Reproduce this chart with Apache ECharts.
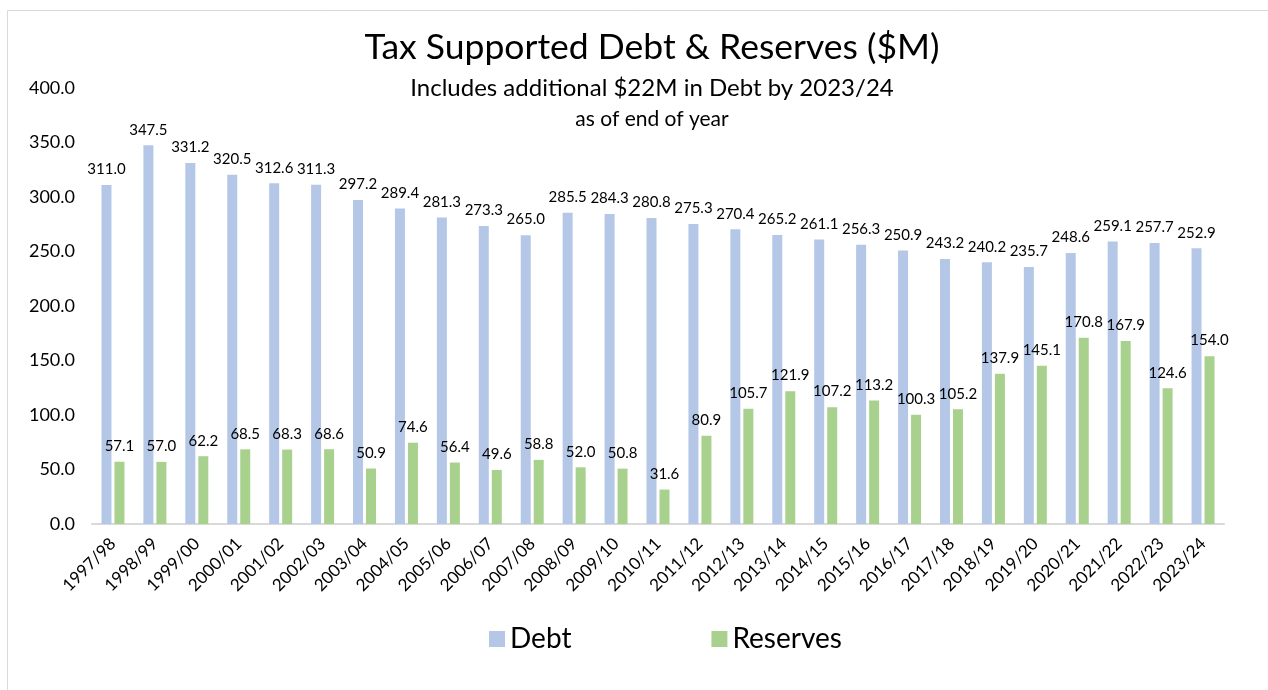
<!DOCTYPE html>
<html><head><meta charset="utf-8">
<script src="https://cdn.jsdelivr.net/npm/echarts@6/dist/echarts.min.js"></script>
<style>html,body{margin:0;padding:0;background:#fff}#c{width:1268px;height:690px}</style>
</head><body><div id="c"></div>
<script>
const categories = ["1997/98","1998/99","1999/00","2000/01","2001/02","2002/03","2003/04","2004/05","2005/06","2006/07","2007/08","2008/09","2009/10","2010/11","2011/12","2012/13","2013/14","2014/15","2015/16","2016/17","2017/18","2018/19","2019/20","2020/21","2021/22","2022/23","2023/24"];
const debt = [311.0,347.5,331.2,320.5,312.6,311.3,297.2,289.4,281.3,273.3,265.0,285.5,284.3,280.8,275.3,270.4,265.2,261.1,256.3,250.9,243.2,240.2,235.7,248.6,259.1,257.7,252.9];
const reserves = [57.1,57.0,62.2,68.5,68.3,68.6,50.9,74.6,56.4,49.6,58.8,52.0,50.8,31.6,80.9,105.7,121.9,107.2,113.2,100.3,105.2,137.9,145.1,170.8,167.9,124.6,154.0];
const titleText = "Tax Supported Debt & Reserves ($M)";
const subtitle1 = "Includes additional $22M in Debt by 2023/24";
const subtitle2 = "as of end of year";

const font = "Lato, 'Open Sans', sans-serif";
const chart = echarts.init(document.getElementById('c'), null, {renderer:'canvas'});
chart.setOption({
  animation:false,
  textStyle:{fontFamily:font, color:'#000'},
  graphic:[{type:'rect', shape:{x:7.5,y:10.5,width:1300,height:700}, style:{fill:'none', stroke:'#D9D9D9', lineWidth:1}, silent:true}],
  title:[
    {text:titleText, left:647, textAlign:'center', top:25, textStyle:{fontFamily:font, fontSize:35.5, fontWeight:'normal', color:'#000'}},
    {text:subtitle1, left:647, textAlign:'center', top:71, textStyle:{fontFamily:font, fontSize:24, fontWeight:'normal', color:'#000'}},
    {text:subtitle2, left:647, textAlign:'center', top:104, textStyle:{fontFamily:font, fontSize:21, fontWeight:'normal', color:'#000'}}
  ],
  legend:{bottom:32, left:484, itemWidth:16, itemHeight:16, itemGap:140, icon:'rect',
    textStyle:{fontFamily:font, fontSize:28, color:'#000'}, data:['Debt','Reserves']},
  grid:{left:92, right:44, top:88, bottom:166, containLabel:false},
  xAxis:{type:'category', data:categories,
    axisLine:{lineStyle:{color:'#D9D9D9', width:2}}, axisTick:{show:false},
    axisLabel:{rotate:45, fontSize:17, color:'#000', fontFamily:font, margin:17, interval:0}},
  yAxis:{type:'value', min:0, max:400, interval:50,
    splitLine:{show:false}, axisLine:{show:false}, axisTick:{show:false},
    axisLabel:{fontSize:18, color:'#000', fontFamily:font, margin:17, formatter:v=>v.toFixed(1)}},
  series:[
    {name:'Debt', type:'bar', data:debt, barWidth:10, barGap:'30%',
     itemStyle:{color:'#B4C7E7'},
     label:{show:true, position:'top', distance:8, fontSize:15, color:'#000', fontFamily:font, formatter:p=>p.value.toFixed(1)}},
    {name:'Reserves', type:'bar', data:reserves, barWidth:10,
     itemStyle:{color:'#A9D18E'},
     label:{show:true, position:'top', distance:8, fontSize:15, color:'#000', fontFamily:font, formatter:p=>p.value.toFixed(1)}}
  ]
});
</script></body></html>
